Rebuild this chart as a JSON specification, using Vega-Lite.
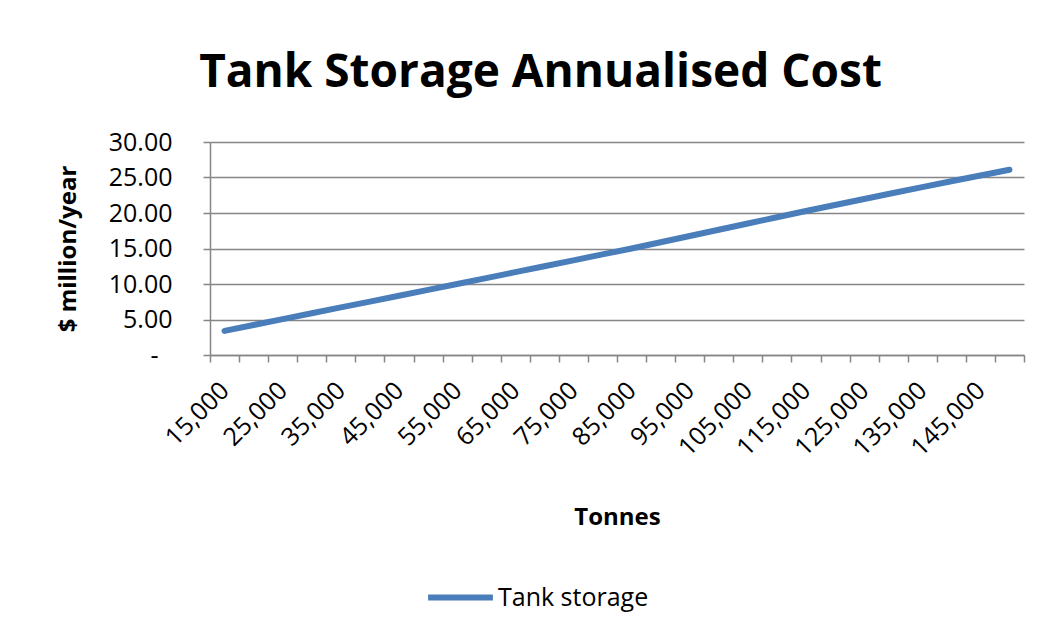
{
  "$schema": "https://vega.github.io/schema/vega-lite/v6.json",
  "autosize": "none",
  "width": 814,
  "height": 213,
  "padding": {"left": 210, "top": 142, "right": 31, "bottom": 281},
  "background": "white",
  "title": {
    "text": "Tank Storage Annualised Cost",
    "font": "Open Sans",
    "fontSize": 46,
    "fontWeight": "bold",
    "color": "#000000",
    "anchor": "middle",
    "frame": "bounds",
    "baseline": "alphabetic",
    "offset": -3
  },
  "data": {
    "values": [
      {"tonnes": 15000, "cost": 3.40, "series": "Tank storage"},
      {"tonnes": 20000, "cost": 4.23, "series": "Tank storage"},
      {"tonnes": 25000, "cost": 5.05, "series": "Tank storage"},
      {"tonnes": 30000, "cost": 5.88, "series": "Tank storage"},
      {"tonnes": 35000, "cost": 6.70, "series": "Tank storage"},
      {"tonnes": 40000, "cost": 7.52, "series": "Tank storage"},
      {"tonnes": 45000, "cost": 8.35, "series": "Tank storage"},
      {"tonnes": 50000, "cost": 9.17, "series": "Tank storage"},
      {"tonnes": 55000, "cost": 10.00, "series": "Tank storage"},
      {"tonnes": 60000, "cost": 10.83, "series": "Tank storage"},
      {"tonnes": 65000, "cost": 11.67, "series": "Tank storage"},
      {"tonnes": 70000, "cost": 12.50, "series": "Tank storage"},
      {"tonnes": 75000, "cost": 13.33, "series": "Tank storage"},
      {"tonnes": 80000, "cost": 14.17, "series": "Tank storage"},
      {"tonnes": 85000, "cost": 15.00, "series": "Tank storage"},
      {"tonnes": 90000, "cost": 15.88, "series": "Tank storage"},
      {"tonnes": 95000, "cost": 16.76, "series": "Tank storage"},
      {"tonnes": 100000, "cost": 17.64, "series": "Tank storage"},
      {"tonnes": 105000, "cost": 18.52, "series": "Tank storage"},
      {"tonnes": 110000, "cost": 19.40, "series": "Tank storage"},
      {"tonnes": 115000, "cost": 20.28, "series": "Tank storage"},
      {"tonnes": 120000, "cost": 21.13, "series": "Tank storage"},
      {"tonnes": 125000, "cost": 21.97, "series": "Tank storage"},
      {"tonnes": 130000, "cost": 22.81, "series": "Tank storage"},
      {"tonnes": 135000, "cost": 23.64, "series": "Tank storage"},
      {"tonnes": 140000, "cost": 24.47, "series": "Tank storage"},
      {"tonnes": 145000, "cost": 25.29, "series": "Tank storage"},
      {"tonnes": 150000, "cost": 26.10, "series": "Tank storage"}
    ]
  },
  "mark": {"type": "line", "strokeWidth": 6, "strokeCap": "round", "strokeJoin": "round"},
  "encoding": {
    "x": {
      "field": "tonnes",
      "type": "ordinal",
      "scale": {"paddingInner": 0, "paddingOuter": 0},
      "axis": {
        "title": "Tonnes",
        "labelExpr": "datum.value % 10000 == 5000 ? format(datum.value, ',') : ''",
        "labelAngle": -45,
        "labelAlign": "right",
        "labelBaseline": "middle",
        "labelPadding": 24,
        "labelDx": -10,
        "tickBand": "extent",
        "tickSize": 7,
        "grid": false,
        "titlePadding": 45
      }
    },
    "y": {
      "field": "cost",
      "type": "quantitative",
      "scale": {"domain": [0, 30], "nice": false, "zero": true},
      "axis": {
        "title": "$ million/year",
        "values": [0, 5, 10, 15, 20, 25, 30],
        "labelExpr": "datum.value == 0 ? '-' : format(datum.value, '.2f')",
        "tickSize": 7,
        "labelPadding": {"condition": {"test": "datum.value == 0", "value": 45}, "value": 31},
        "titlePadding": 28,
        "grid": true
      }
    },
    "color": {
      "field": "series",
      "type": "nominal",
      "scale": {"range": ["#4a7ebb"]},
      "legend": {
        "title": null,
        "orient": "none",
        "legendX": 215,
        "legendY": 420,
        "symbolType": "stroke",
        "symbolSize": 4200,
        "symbolStrokeWidth": 6,
        "labelFontSize": 25,
        "labelFont": "Open Sans",
        "labelColor": "#000000",
        "labelOffset": 2,
        "padding": 0
      }
    }
  },
  "config": {
    "view": {"stroke": null},
    "axis": {
      "labelFont": "Open Sans",
      "labelFontSize": 25,
      "labelColor": "#000000",
      "titleFont": "Open Sans",
      "titleFontSize": 24,
      "titleFontWeight": "bold",
      "titleColor": "#000000",
      "domainColor": "#868686",
      "domainWidth": 1.5,
      "tickColor": "#868686",
      "tickWidth": 1.5,
      "gridColor": "#868686",
      "gridWidth": 1.5,
      "gridOpacity": 1,
      "labelOverlap": false,
      "labelBound": false,
      "labelFlush": false
    }
  }
}
